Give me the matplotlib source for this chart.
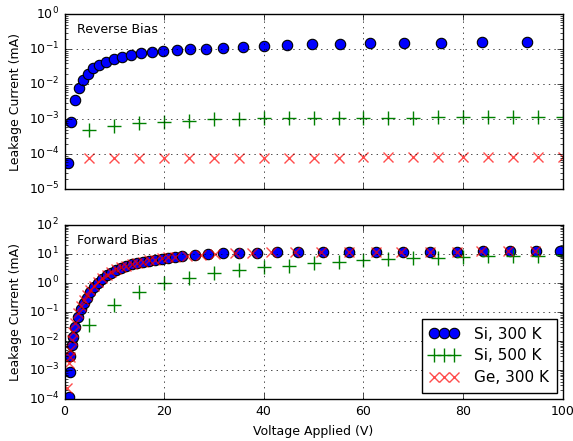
import matplotlib
matplotlib.use("Agg")
import matplotlib.pyplot as plt
import numpy as np

plt.style.use('classic')
plt.rcParams['font.family'] = ['DejaVu Sans']
plt.rcParams['font.size'] = 9

# ---- Reverse bias data ----
rev_si300_v = [0.6, 1.4, 2.2, 2.9, 3.75, 4.76, 5.8, 6.9, 8.4, 9.9, 11.5, 13.4, 15.3, 17.5,
               19.7, 22.5, 25.2, 28.5, 31.9, 35.8, 40.0, 44.6, 49.7, 55.2, 61.4, 68.1,
               75.6, 83.9, 92.8]
rev_si300_i = [5.6e-5, 8.4e-4, 3.5e-3, 7.9e-3, 1.3e-2, 2.0e-2, 2.9e-2, 3.6e-2, 4.4e-2,
               5.2e-2, 5.9e-2, 6.7e-2, 7.7e-2, 8.4e-2, 8.9e-2, 9.5e-2, 0.100, 0.105,
               0.112, 0.118, 0.124, 0.132, 0.139, 0.142, 0.148, 0.152, 0.155, 0.159, 0.162]

rev_v = [5, 10, 15, 20, 25, 30, 35, 40, 45, 50, 55, 60, 65, 70, 75, 80, 85, 90, 95, 100]
rev_si500_i = [4.9e-4, 6.4e-4, 7.6e-4, 8.3e-4, 9.1e-4, 1.0e-3, 1.02e-3, 1.07e-3, 1.1e-3,
               1.1e-3, 1.1e-3, 1.12e-3, 1.12e-3, 1.12e-3, 1.13e-3, 1.13e-3, 1.13e-3,
               1.14e-3, 1.14e-3, 1.14e-3]
rev_ge300_i = [7.7e-5, 7.8e-5, 7.8e-5, 7.9e-5, 7.9e-5, 8.0e-5, 8.0e-5, 8.0e-5, 8.1e-5,
               8.1e-5, 8.1e-5, 8.2e-5, 8.2e-5, 8.2e-5, 8.2e-5, 8.3e-5, 8.3e-5, 8.3e-5,
               8.3e-5, 8.3e-5]

# ---- Forward bias data ----
fwd_si300_v = [0.9, 1.0, 1.15, 1.5, 1.8, 2.2, 2.7, 3.3, 3.9, 4.5, 5.2, 6.0, 6.8, 7.6, 8.5,
               9.4, 10.4, 11.4, 12.4, 13.5, 14.6, 15.8, 17.0, 18.2, 19.5, 20.8, 22.2,
               23.6, 26.1, 28.9, 31.8, 35.1, 38.7, 42.6, 46.8, 51.9, 57.2, 62.6, 67.9,
               73.3, 78.7, 84.0, 89.4, 94.6, 99.4]
fwd_si300_log = [-3.92, -3.08, -2.52, -2.13, -1.85, -1.51, -1.16, -0.88, -0.68, -0.50,
                 -0.32, -0.15, 0.00, 0.14, 0.26, 0.36, 0.44, 0.52, 0.58, 0.64, 0.69, 0.73,
                 0.77, 0.80, 0.84, 0.87, 0.90, 0.92, 0.96, 0.99, 1.02, 1.04, 1.05, 1.06,
                 1.07, 1.075, 1.08, 1.08, 1.083, 1.085, 1.085, 1.087, 1.088, 1.089, 1.09]

fwd_ge300_v = [0.4, 0.9, 1.0, 1.15, 1.5, 1.8, 2.2, 2.7, 3.3, 3.9, 4.5, 5.2, 6.0, 6.8, 7.6,
               8.5, 9.4, 10.4, 11.4, 12.4, 13.5, 14.6, 15.8, 17.0, 18.2, 19.5, 20.8, 22.2,
               24.5, 27.3, 30.2, 34.2, 37.6, 41.5, 46.2, 51.5, 57.2, 62.6, 67.6, 73.3,
               78.7, 83.7, 89.0, 94.4]
fwd_ge300_log = [-3.62, -2.77, -2.55, -2.30, -1.95, -1.70, -1.38, -1.05, -0.78, -0.59,
                 -0.42, -0.25, -0.09, 0.05, 0.18, 0.29, 0.39, 0.47, 0.54, 0.60, 0.66, 0.70,
                 0.74, 0.78, 0.81, 0.85, 0.88, 0.91, 0.94, 0.98, 1.01, 1.04, 1.05, 1.06,
                 1.07, 1.075, 1.08, 1.08, 1.083, 1.085, 1.085, 1.087, 1.088, 1.089]

fwd_si500_v = [5, 10, 15, 20, 25, 30, 35, 40, 45, 50, 55, 60, 65, 70, 75, 80, 85, 90, 95, 100]
fwd_si500_log = [-1.45, -0.76, -0.30, -0.01, 0.17, 0.34, 0.44, 0.54, 0.60, 0.68, 0.74, 0.80,
                 0.82, 0.86, 0.87, 0.91, 0.92, 0.93, 0.94, 0.95]

labels = ['Si, 300 K', 'Si, 500 K', 'Ge, 300 K']

fig = plt.figure(figsize=(5.73, 4.41), dpi=100, facecolor='white')
ax1 = fig.add_axes([0.1126, 0.5707, 0.8694, 0.3969])
ax2 = fig.add_axes([0.1126, 0.0952, 0.8694, 0.3946])

blue_kw = dict(linestyle='none', marker='o', color='b', markeredgecolor='k',
               markersize=7.5, markeredgewidth=0.8)
green_kw = dict(linestyle='none', marker='+', color='g', markeredgecolor='g',
                markersize=10, markeredgewidth=1.0)
red_kw = dict(linestyle='none', marker='x', color='r', markeredgecolor='r',
              markersize=7.5, markeredgewidth=1.0, alpha=0.7)

ax1.semilogy(rev_si300_v, rev_si300_i, label=labels[0], **blue_kw)
ax1.semilogy(rev_v, rev_si500_i, label=labels[1], **green_kw)
ax1.semilogy(rev_v, rev_ge300_i, label=labels[2], **red_kw)
ax1.set_xlim(0, 100)
ax1.set_ylim(1e-5, 1e0)
ax1.set_xticklabels([])
ax1.grid(True, color='k', linestyle=':')
ax1.set_ylabel('Leakage Current (mA)', fontsize=9)
ax1.text(0.025, 0.95, 'Reverse Bias', transform=ax1.transAxes, ha='left', va='top',
         fontsize=9, bbox=dict(facecolor='white', edgecolor='none', pad=1))

ax2.semilogy(fwd_si300_v, 10 ** np.array(fwd_si300_log), label=labels[0], **blue_kw)
ax2.semilogy(fwd_si500_v, 10 ** np.array(fwd_si500_log), label=labels[1], **green_kw)
ax2.semilogy(fwd_ge300_v, 10 ** np.array(fwd_ge300_log), label=labels[2], **red_kw)
ax2.set_xlim(0, 100)
ax2.set_ylim(1e-4, 1e2)
ax2.grid(True, color='k', linestyle=':')
ax2.set_ylabel('Leakage Current (mA)', fontsize=9)
ax2.set_xlabel('Voltage Applied (V)', fontsize=9)
ax2.text(0.025, 0.95, 'Forward Bias', transform=ax2.transAxes, ha='left', va='top',
         fontsize=9, bbox=dict(facecolor='white', edgecolor='none', pad=1))
leg = ax2.legend(loc='lower right', numpoints=3, fontsize=11, handletextpad=1.0,
                 borderpad=0.5, labelspacing=0.45, borderaxespad=0.4, handlelength=1.9)
leg.get_frame().set_linewidth(1.0)

for ax in (ax1, ax2):
    ax.tick_params(labelsize=9)

fig.savefig('out.png', dpi=100, facecolor='white')
